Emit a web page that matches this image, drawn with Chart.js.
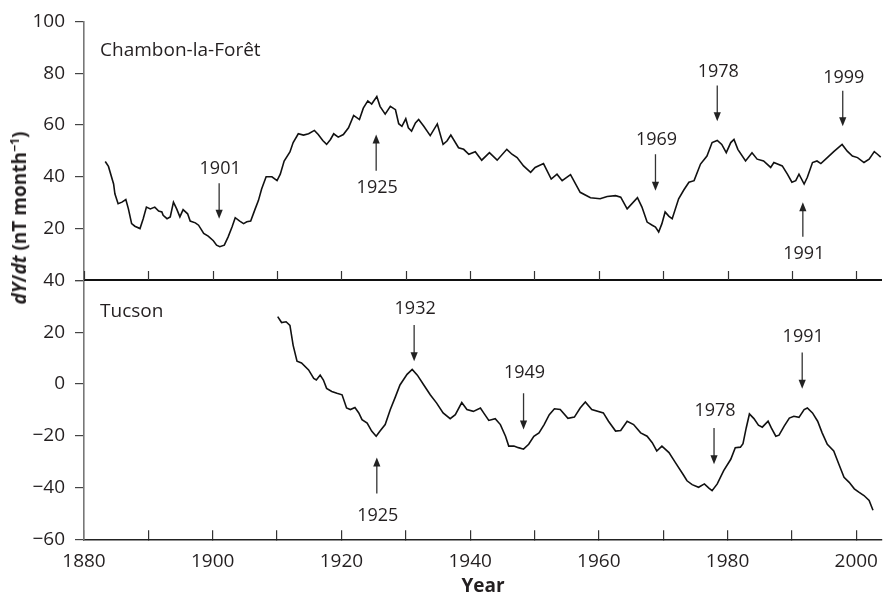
<!DOCTYPE html>
<html>
<head>
<meta charset="utf-8">
<script src="https://cdn.jsdelivr.net/npm/chart.js@4.4.1/dist/chart.umd.min.js"></script>
<style>
  html, body { margin: 0; padding: 0; background: #fff; }
  #wrap { position: relative; width: 885px; height: 598px; }
  #ytitle {
    position: absolute; left: 19px; top: 218px;
    transform: translate(-50%, -50%) rotate(-90deg);
    white-space: nowrap; font: bold 19px 'Open Sans', sans-serif; color: #231f20;
  }
  #ytitle sup { font-size: 0.65em; line-height: 0; }
</style>
</head>
<body>
<div id="wrap">
  <canvas id="c" width="885" height="598"></canvas>
  <div id="ytitle"><i>dY</i>/<i>dt</i> (nT month<sup>−1</sup>)</div>
</div>
<script>
// ---------------- data ----------------
const chambonYears = [1883.3,1883.8,1884.6,1884.8,1885.3,1885.9,1886.5,1886.9,1887.4,1887.9,1888.7,1889.2,1889.7,1890.3,1891.0,1891.6,1892.1,1892.3,1892.9,1893.4,1893.9,1894.4,1894.9,1895.4,1896.1,1896.5,1897.3,1897.8,1898.6,1899.3,1900.1,1900.6,1901.1,1901.8,1902.4,1903.0,1903.5,1904.2,1904.8,1905.3,1905.9,1906.6,1907.1,1907.6,1908.3,1909.2,1910.0,1910.5,1911.1,1912.0,1912.5,1913.3,1914.1,1914.9,1915.8,1916.4,1917.1,1917.7,1918.3,1918.8,1919.5,1920.3,1921.1,1921.9,1922.8,1923.4,1924.1,1924.7,1925.5,1926.0,1926.8,1927.6,1928.4,1928.9,1929.4,1930.0,1930.4,1930.9,1931.5,1932.0,1932.8,1933.8,1934.9,1935.8,1936.4,1937.0,1938.2,1939.0,1939.8,1940.8,1941.8,1943.0,1944.2,1945.7,1946.5,1947.3,1948.3,1949.4,1950.1,1951.4,1952.6,1953.5,1954.3,1955.6,1957.1,1958.7,1960.2,1961.3,1962.6,1963.4,1964.4,1966.0,1966.7,1967.5,1968.3,1968.8,1969.3,1969.8,1970.3,1970.9,1971.4,1972.4,1973.2,1974.0,1974.8,1975.8,1976.8,1977.6,1978.4,1979.1,1979.8,1980.5,1981.0,1981.6,1982.8,1983.8,1984.6,1985.6,1986.7,1987.2,1988.5,1989.3,1990.0,1990.6,1991.1,1991.9,1992.4,1993.2,1993.9,1994.5,1995.5,1996.5,1997.8,1998.6,1999.4,2000.2,2001.2,2002.0,2002.8,2003.3,2003.8];
const chambonValues = [45.9,44.0,37.2,33.4,29.6,30.2,31.2,27.6,21.9,20.9,20.0,23.8,28.3,27.6,28.3,26.8,26.4,25.1,23.8,24.5,30.2,27.6,24.5,27.3,25.7,22.9,22.2,21.3,18.1,17.1,15.3,13.6,13.0,13.6,16.8,20.6,24.2,22.9,21.9,22.6,22.9,27.6,30.8,35.3,40.0,40.0,38.5,41.0,46.1,49.6,53.2,56.6,56.1,56.6,57.9,56.3,54.0,52.5,54.4,56.6,55.3,56.3,58.9,63.7,62.1,66.5,69.3,68.1,71.0,67.2,64.2,67.2,65.9,60.5,59.5,62.4,58.9,57.6,60.8,62.1,59.5,55.9,60.4,52.5,53.8,56.1,51.2,50.6,48.7,49.7,46.4,49.3,46.4,50.6,48.7,47.4,44.2,41.7,43.6,45.1,39.1,41.0,38.5,40.8,34.0,31.9,31.5,32.4,32.7,32.1,27.6,31.9,28.3,22.5,21.3,20.6,18.7,21.9,26.4,24.7,23.8,31.5,34.9,37.9,38.5,44.9,48.0,53.2,54.0,52.5,49.3,53.2,54.4,50.6,46.1,49.3,46.8,46.1,43.6,45.5,44.2,41.0,37.9,38.5,41.0,37.2,39.8,45.5,46.1,45.1,47.4,49.7,52.5,49.9,48.0,47.4,45.5,46.8,49.7,48.7,47.6];

const tucsonYears = [1910.1,1910.7,1911.4,1912.0,1912.5,1913.1,1913.8,1914.9,1915.7,1916.1,1916.7,1917.2,1917.7,1918.5,1919.3,1920.1,1920.8,1921.4,1922.1,1922.7,1923.2,1924.0,1924.7,1925.4,1926.0,1926.8,1927.6,1928.4,1929.1,1930.2,1931.0,1931.8,1932.8,1933.8,1934.8,1935.8,1936.9,1937.7,1938.7,1939.5,1940.5,1941.6,1942.1,1942.9,1943.9,1944.7,1945.5,1946.0,1946.8,1947.5,1948.3,1949.1,1949.9,1950.7,1951.5,1952.3,1953.1,1954.0,1955.2,1956.2,1957.1,1957.9,1958.9,1960.7,1961.5,1962.6,1963.4,1964.4,1965.4,1966.5,1967.5,1968.3,1969.0,1969.8,1970.9,1971.9,1973.0,1973.7,1974.5,1975.5,1976.4,1977.1,1977.6,1978.4,1979.4,1980.5,1981.2,1982.0,1982.4,1982.9,1983.4,1984.1,1984.8,1985.4,1986.3,1986.8,1987.5,1988.0,1988.8,1989.6,1990.3,1991.1,1991.9,1992.4,1993.2,1994.0,1994.7,1995.5,1996.5,1997.3,1998.1,1998.9,1999.7,2000.4,2001.2,2002.0,2002.6];
const tucsonValues = [26.0,23.7,24.0,22.6,14.9,8.8,8.1,5.4,2.1,1.5,3.4,1.5,-1.7,-2.9,-3.6,-4.2,-9.3,-9.9,-9.1,-11.2,-13.8,-15.1,-18.2,-20.2,-18.2,-15.7,-9.9,-4.9,-0.4,3.7,5.6,3.4,-0.4,-4.2,-7.4,-11.2,-13.4,-11.9,-7.2,-9.9,-10.6,-9.3,-11.2,-14.1,-13.4,-15.7,-20.2,-24.0,-24.0,-24.6,-25.2,-23.3,-20.2,-18.9,-15.7,-11.9,-9.6,-9.9,-13.3,-12.8,-9.3,-7.0,-9.9,-11.2,-14.4,-18.2,-18.0,-14.4,-15.7,-18.9,-20.2,-22.7,-25.9,-24.0,-26.5,-30.4,-34.6,-37.4,-38.9,-39.9,-38.6,-40.2,-41.2,-38.6,-33.5,-29.1,-24.6,-24.4,-23.1,-17.0,-11.6,-13.4,-15.9,-16.7,-14.4,-17.0,-20.2,-19.8,-16.3,-13.2,-12.5,-12.9,-9.9,-9.3,-11.2,-14.4,-18.9,-23.3,-25.9,-31.0,-36.1,-38.0,-40.5,-41.8,-43.1,-45.0,-48.8];

const xTickLabels = [1880, 1900, 1920, 1940, 1960, 1980, 2000];
const topTickLabels = [20, 40, 60, 80, 100];
const bottomTickLabels = [-60, -40, -20, 0, 20, 40];

// event markers (year label, arrow from/to in data units of the panel)
const topMarkers = [
  { text: '1901', x: 1901.0, from: 37.5, to: 23.8, label: 43.2 },
  { text: '1925', x: 1925.4, from: 42.3, to: 56.3, label: 35.9 },
  { text: '1969', x: 1968.8, from: 48.7, to: 34.6, label: 54.4 },
  { text: '1978', x: 1978.4, from: 75.2, to: 61.4, label: 80.4 },
  { text: '1999', x: 1997.9, from: 73.2, to: 59.5, label: 78.2 },
  { text: '1991', x: 1991.7, from: 16.8, to: 30.2, label: 10.4 }
];
const bottomMarkers = [
  { text: '1925', x: 1925.5, from: -42.3, to: -28.4, label: -50.8 },
  { text: '1932', x: 1931.3, from: 22.8, to: 8.8, label: 28.9 },
  { text: '1949', x: 1948.3, from: -3.6, to: -17.6, label: 4.4 },
  { text: '1978', x: 1977.9, from: -17.0, to: -31.0, label: -10.3 },
  { text: '1991', x: 1991.6, from: 12.1, to: -1.9, label: 18.1 }
];
const panelNames = [
  { text: 'Chambon-la-Forêt', axis: 'yT', x: 1882.5, y: 88.8 },
  { text: 'Tucson', axis: 'yB', x: 1882.5, y: 28.0 }
];

// ---------------- chart ----------------
const FONT = "'Open Sans', sans-serif";
const INK = '#231f20';
const minus = v => (v < 0 ? '\u2212' + Math.abs(v) : String(v));

const toPoints = (xs, ys) => xs.map((x, i) => ({ x: x, y: ys[i] }));

const decor = {
  id: 'decor',
  afterDatasetsDraw(chart) {
    const { ctx, chartArea } = chart;
    const xs = chart.scales.x;
    const yB = chart.scales.yB;
    const yT = chart.scales.yT;
    ctx.save();
    // boundary line between panels with inward ticks
    const yb = Math.round(yT.bottom);
    ctx.strokeStyle = '#111';
    ctx.lineWidth = 2;
    ctx.beginPath();
    ctx.moveTo(chartArea.left, yb);
    ctx.lineTo(chartArea.right, yb);
    ctx.stroke();
    ctx.lineWidth = 1.2;
    ctx.strokeStyle = '#333';
    xs.ticks.forEach(t => {
      const px = Math.round(xs.getPixelForValue(t.value)) + 0.5;
      ctx.beginPath();
      ctx.moveTo(px, yb);
      ctx.lineTo(px, yb - 9);
      ctx.stroke();
    });
    // arrows
    const drawMarker = (m, sc) => {
      const px = xs.getPixelForValue(m.x);
      const p1 = sc.getPixelForValue(m.from);
      const p2 = sc.getPixelForValue(m.to);
      const dir = p2 > p1 ? 1 : -1;
      ctx.strokeStyle = '#333';
      ctx.fillStyle = '#222';
      ctx.lineWidth = 1.3;
      ctx.beginPath();
      ctx.moveTo(px, p1);
      ctx.lineTo(px, p2 - dir * 8);
      ctx.stroke();
      ctx.beginPath();
      ctx.moveTo(px, p2);
      ctx.lineTo(px - 3.6, p2 - dir * 9);
      ctx.lineTo(px + 3.6, p2 - dir * 9);
      ctx.closePath();
      ctx.fill();
      ctx.fillStyle = INK;
      ctx.font = '18px ' + FONT;
      ctx.textAlign = 'center';
      ctx.textBaseline = 'middle';
      ctx.fillText(m.text, px + 1, sc.getPixelForValue(m.label));
    };
    topMarkers.forEach(m => drawMarker(m, yT));
    bottomMarkers.forEach(m => drawMarker(m, yB));
    // panel names
    panelNames.forEach(p => {
      const sc = chart.scales[p.axis];
      ctx.fillStyle = INK;
      ctx.font = '19px ' + FONT;
      ctx.textAlign = 'left';
      ctx.textBaseline = 'middle';
      ctx.fillText(p.text, xs.getPixelForValue(p.x), sc.getPixelForValue(p.y));
    });
    ctx.restore();
  }
};

const yCommon = (min, max, labels) => ({
  type: 'linear',
  position: 'left',
  stack: 'panels',
  stackWeight: 1,
  min: min,
  max: max,
  afterFit: s => { s.width = 84; },
  ticks: {
    stepSize: 10,
    padding: 10,
    color: INK,
    font: { family: FONT, size: 19 },
    callback: v => (labels.includes(v) ? minus(v) : '')
  },
  grid: { drawOnChartArea: false, drawTicks: true, tickLength: 9, color: '#444', lineWidth: 1.2 },
  border: { display: true, color: '#777', width: 1.6 }
});

new Chart(document.getElementById('c'), {
  type: 'line',
  data: {
    datasets: [
      { label: 'Chambon-la-Forêt', data: toPoints(chambonYears, chambonValues), yAxisID: 'yT',
        borderColor: '#111', borderWidth: 1.6, pointRadius: 0, tension: 0, fill: false },
      { label: 'Tucson', data: toPoints(tucsonYears, tucsonValues), yAxisID: 'yB',
        borderColor: '#111', borderWidth: 1.6, pointRadius: 0, tension: 0, fill: false }
    ]
  },
  options: {
    responsive: false,
    animation: false,
    events: [],
    layout: { padding: { left: 0, right: 3, top: 15.7, bottom: 0 } },
    plugins: { legend: { display: false }, tooltip: { enabled: false }, title: { display: false } },
    scales: {
      x: {
        type: 'linear',
        position: 'bottom',
        min: 1880,
        max: 2004,
        afterFit: s => { s.height = 58.7; s.paddingLeft = 0; s.paddingRight = 0; },
        ticks: {
          stepSize: 10,
          includeBounds: false,
          padding: 20,
          maxRotation: 0,
          autoSkip: false,
          color: INK,
          font: { family: FONT, size: 19 },
          callback: v => (xTickLabels.includes(v) ? String(v) : '')
        },
        grid: { drawOnChartArea: false, drawTicks: true, tickLength: -9, color: '#333', lineWidth: 1.2 },
        border: { display: true, color: '#222', width: 1.6 },
        title: { display: true, text: 'Year', color: INK, font: { family: FONT, size: 19, weight: 'bold' }, padding: { top: 0, bottom: 0 } }
      },
      yB: yCommon(-60, 40, bottomTickLabels),
      yT: yCommon(0, 100, topTickLabels)
    }
  },
  plugins: [decor]
});
</script>
</body>
</html>
